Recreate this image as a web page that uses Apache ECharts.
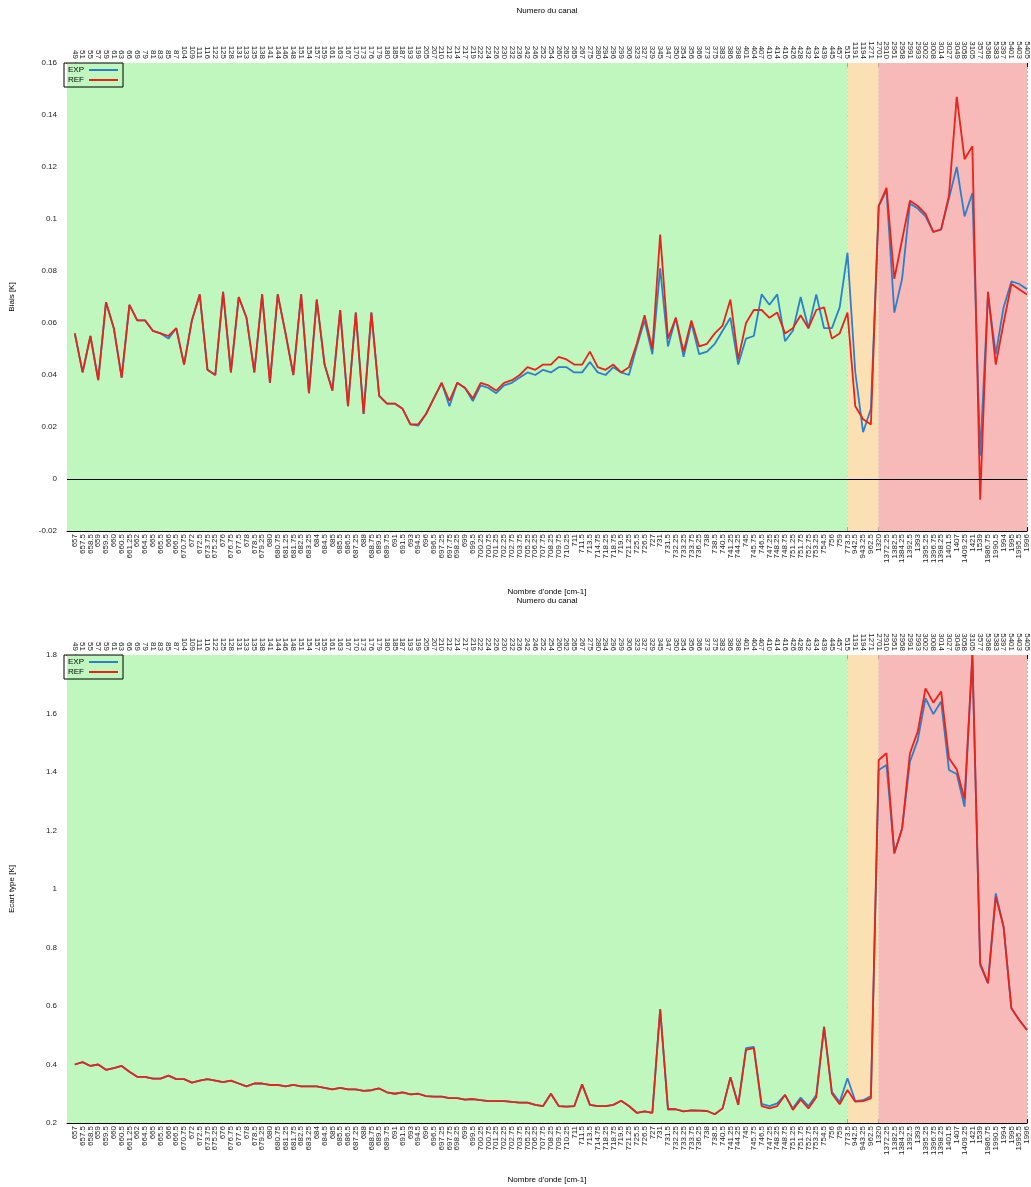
<!DOCTYPE html>
<html>
<head>
<meta charset="utf-8">
<script src="https://cdn.jsdelivr.net/npm/echarts@6/dist/echarts.min.js"></script>
<style>
html, body { margin: 0; padding: 0; background: #fff; }
#chart { width: 1031px; height: 1187px; }
</style>
</head>
<body>
<div id="chart"></div>
<script>
// numero du canal (axe du haut)
const channels = [
    49, 51, 55, 57, 59, 61, 63, 66, 69, 79, 81, 83, 85, 87, 104, 109, 111, 116, 122, 125,
    128, 131, 133, 135, 138, 141, 144, 146, 148, 151, 154, 157, 159, 161, 163, 167, 170, 173, 176, 179,
    180, 185, 187, 193, 199, 205, 207, 210, 212, 214, 217, 219, 222, 224, 226, 230, 232, 236, 242, 246,
    252, 254, 260, 262, 265, 267, 275, 280, 294, 296, 299, 306, 323, 327, 329, 345, 347, 350, 354, 356,
    366, 373, 375, 383, 386, 398, 401, 404, 407, 410, 414, 416, 426, 428, 432, 434, 439, 445, 457, 515,
    1191, 1194, 1271, 2701, 2910, 2951, 2958, 2991, 2993, 3002, 3008, 3014, 3027, 3049, 3058, 3105, 3577, 5368, 5383, 5397,
    5401, 5403, 5405
];

// nombre d'onde (axe du bas)
const wavenumbers = [
    "657", "657.5", "658.5", "659", "659.5", "660", "660.5", "661.25", "662", "664.5",
    "665", "665.5", "666", "666.5", "670.75", "672", "672.5", "673.75", "675.25", "676",
    "676.75", "677.5", "678", "678.5", "679.25", "680", "680.75", "681.25", "681.75", "682.5",
    "683.25", "684", "684.5", "685", "685.5", "686.5", "687.25", "688", "688.75", "689.5",
    "689.75", "691", "691.5", "693", "694.5", "696", "696.5", "697.25", "697.75", "698.25",
    "699", "699.5", "700.25", "700.75", "701.25", "702.25", "702.75", "703.75", "705.25", "706.25",
    "707.75", "708.25", "709.75", "710.25", "711", "711.5", "713.5", "714.75", "718.25", "718.75",
    "719.5", "721.25", "725.5", "726.5", "727", "731", "731.5", "732.25", "733.25", "733.75",
    "736.25", "738", "738.5", "740.5", "741.25", "744.25", "745", "745.75", "746.5", "747.25",
    "748.25", "748.75", "751.25", "751.75", "752.75", "753.25", "754.5", "756", "759", "773.5",
    "942.5", "943.25", "962.5", "1320", "1372.25", "1382.5", "1384.25", "1392.5", "1393", "1395.25",
    "1396.75", "1398.25", "1401.5", "1407", "1409.25", "1421", "1539", "1986.75", "1990.5", "1994",
    "1995", "1995.5", "1996"
];

const biaisExp = [
    0.056, 0.041, 0.055, 0.038, 0.068, 0.058, 0.039, 0.067, 0.061, 0.061,
    0.057, 0.056, 0.054, 0.058, 0.044, 0.061, 0.071, 0.042, 0.040, 0.072,
    0.041, 0.070, 0.062, 0.041, 0.071, 0.037, 0.071, 0.056, 0.040, 0.071,
    0.033, 0.069, 0.044, 0.034, 0.065, 0.028, 0.064, 0.025, 0.064, 0.032,
    0.029, 0.029, 0.027, 0.021, 0.0205, 0.025, 0.031, 0.037, 0.028, 0.037,
    0.035, 0.030, 0.036, 0.035, 0.033, 0.036, 0.037, 0.039, 0.041, 0.040,
    0.042, 0.041, 0.043, 0.043, 0.041, 0.041, 0.045, 0.041, 0.040, 0.043,
    0.041, 0.040, 0.051, 0.061, 0.048, 0.081, 0.051, 0.062, 0.047, 0.060,
    0.048, 0.049, 0.052, 0.057, 0.062, 0.044, 0.054, 0.055, 0.071, 0.067,
    0.071, 0.053, 0.057, 0.070, 0.058, 0.071, 0.058, 0.058, 0.066, 0.087,
    0.041, 0.018, 0.027, 0.105, 0.111, 0.064, 0.077, 0.106, 0.104, 0.101,
    0.095, 0.096, 0.108, 0.120, 0.101, 0.110, 0.009, 0.071, 0.048, 0.066,
    0.076, 0.075, 0.073
];

const biaisRef = [
    0.056, 0.041, 0.055, 0.038, 0.068, 0.058, 0.039, 0.067, 0.061, 0.061,
    0.057, 0.056, 0.055, 0.058, 0.044, 0.061, 0.071, 0.042, 0.040, 0.072,
    0.041, 0.070, 0.062, 0.041, 0.071, 0.037, 0.071, 0.056, 0.040, 0.071,
    0.033, 0.069, 0.044, 0.034, 0.065, 0.028, 0.064, 0.025, 0.064, 0.032,
    0.029, 0.029, 0.027, 0.021, 0.021, 0.025, 0.031, 0.037, 0.030, 0.037,
    0.035, 0.031, 0.037, 0.036, 0.034, 0.037, 0.038, 0.040, 0.043, 0.042,
    0.044, 0.044, 0.047, 0.046, 0.044, 0.044, 0.049, 0.043, 0.042, 0.044,
    0.041, 0.043, 0.052, 0.063, 0.050, 0.094, 0.054, 0.062, 0.049, 0.061,
    0.051, 0.052, 0.056, 0.059, 0.069, 0.046, 0.060, 0.065, 0.065, 0.062,
    0.064, 0.056, 0.058, 0.063, 0.058, 0.065, 0.066, 0.054, 0.056, 0.064,
    0.028, 0.023, 0.021, 0.105, 0.112, 0.077, 0.092, 0.107, 0.105, 0.102,
    0.095, 0.096, 0.109, 0.147, 0.123, 0.128, -0.008, 0.072, 0.044, 0.060,
    0.075, 0.073, 0.071
];

const ecartExp = [
    0.400, 0.408, 0.395, 0.400, 0.382, 0.388, 0.395, 0.375, 0.358, 0.358,
    0.352, 0.352, 0.362, 0.350, 0.350, 0.338, 0.345, 0.350, 0.345, 0.340,
    0.345, 0.335, 0.325, 0.335, 0.335, 0.330, 0.330, 0.325, 0.330, 0.325,
    0.325, 0.325, 0.320, 0.315, 0.320, 0.315, 0.315, 0.310, 0.312, 0.318,
    0.305, 0.300, 0.305, 0.298, 0.300, 0.292, 0.290, 0.290, 0.285, 0.285,
    0.280, 0.282, 0.278, 0.275, 0.275, 0.275, 0.272, 0.270, 0.270, 0.262,
    0.258, 0.300, 0.258, 0.256, 0.258, 0.332, 0.262, 0.258, 0.258, 0.262,
    0.276, 0.258, 0.235, 0.240, 0.235, 0.589, 0.247, 0.247, 0.240, 0.243,
    0.242, 0.241, 0.230, 0.250, 0.356, 0.262, 0.456, 0.460, 0.265, 0.258,
    0.267, 0.296, 0.250, 0.287, 0.258, 0.296, 0.529, 0.307, 0.272, 0.353,
    0.275, 0.278, 0.292, 1.407, 1.424, 1.122, 1.207, 1.435, 1.509, 1.652,
    1.598, 1.641, 1.407, 1.393, 1.281, 1.800, 0.740, 0.678, 0.985, 0.871,
    0.592, 0.552, 0.518
];

const ecartRef = [
    0.400, 0.408, 0.395, 0.400, 0.382, 0.388, 0.395, 0.375, 0.358, 0.358,
    0.352, 0.352, 0.362, 0.350, 0.350, 0.338, 0.345, 0.350, 0.345, 0.340,
    0.345, 0.335, 0.325, 0.335, 0.335, 0.330, 0.330, 0.325, 0.330, 0.325,
    0.325, 0.325, 0.320, 0.315, 0.320, 0.315, 0.315, 0.310, 0.312, 0.318,
    0.305, 0.300, 0.305, 0.298, 0.300, 0.292, 0.290, 0.290, 0.285, 0.285,
    0.280, 0.282, 0.278, 0.275, 0.275, 0.275, 0.272, 0.270, 0.270, 0.262,
    0.258, 0.300, 0.258, 0.256, 0.258, 0.332, 0.262, 0.258, 0.258, 0.262,
    0.276, 0.258, 0.235, 0.240, 0.235, 0.589, 0.247, 0.247, 0.240, 0.243,
    0.242, 0.241, 0.230, 0.250, 0.356, 0.262, 0.450, 0.456, 0.258, 0.250,
    0.258, 0.296, 0.245, 0.280, 0.250, 0.288, 0.529, 0.301, 0.264, 0.313,
    0.273, 0.275, 0.284, 1.441, 1.464, 1.122, 1.207, 1.464, 1.538, 1.686,
    1.637, 1.675, 1.447, 1.409, 1.307, 1.800, 0.746, 0.678, 0.974, 0.871,
    0.592, 0.552, 0.518
];

const N = wavenumbers.length;
const greenEnd = wavenumbers.indexOf("773.5");
const redStart = wavenumbers.indexOf("1320");

const BLUE = "#2c80c8";
const RED = "#e8231b";
const FONT = "Liberation Sans";

const toPairs = arr => arr.map((v, i) => [i, v]);

const xAxisPair = (g, nameGapBottom, nameGapTop) => [
    {
        type: "value", gridIndex: g, position: "bottom",
        min: -1, max: N - 1, interval: 1,
        name: "Nombre d'onde [cm-1]", nameLocation: "middle", nameGap: nameGapBottom,
        nameTextStyle: { fontSize: 8, color: "#000", fontFamily: FONT },
        axisLine: { show: true, onZero: false, lineStyle: { color: "#000", width: 1 } },
        axisTick: { show: true, inside: true, length: 4, lineStyle: { color: "#000" } },
        axisLabel: {
            rotate: 90, fontSize: 8, margin: 3, color: "#222", fontFamily: FONT,
            formatter: v => wavenumbers[v] ?? ""
        },
        splitLine: { show: true, lineStyle: { color: "rgba(60,80,60,0.4)", type: [2, 2], width: 1 } }
    },
    {
        type: "value", gridIndex: g, position: "top",
        min: -1, max: N - 1, interval: 1,
        name: "Numero du canal", nameLocation: "middle", nameGap: nameGapTop,
        nameTextStyle: { fontSize: 8, color: "#000", fontFamily: FONT },
        axisLine: { show: true, onZero: false, lineStyle: { color: "#000", width: 1 } },
        axisTick: { show: true, inside: true, length: 4, lineStyle: { color: "#000" } },
        axisLabel: {
            rotate: 90, fontSize: 8, margin: 4, color: "#222", fontFamily: FONT,
            formatter: v => (channels[v] !== undefined ? String(channels[v]) : "")
        },
        splitLine: { show: false }
    }
];

const yAxisFor = (g, name, min, max, interval) => ({
    type: "value", gridIndex: g, min, max, interval,
    name, nameLocation: "middle", nameGap: 51,
    nameTextStyle: { fontSize: 8, color: "#000", fontFamily: FONT },
    axisLine: { show: true, lineStyle: { color: "#000", width: 1 } },
    axisTick: { show: true, inside: true, length: 4, lineStyle: { color: "#000" } },
    axisLabel: { fontSize: 8, color: "#222", margin: 10, fontFamily: FONT },
    splitLine: { show: true, lineStyle: { color: "rgba(90,90,90,0.5)", type: [1, 2], width: 1 } }
});

const zoneSeries = (g, data) => ({
    type: "line", xAxisIndex: 2 * g, yAxisIndex: g,
    data: toPairs(data), showSymbol: false, silent: true, z: -5,
    lineStyle: { opacity: 0 },
    markArea: {
        silent: true,
        data: [
            [{ xAxis: -1, itemStyle: { color: "#bff7bf" } }, { xAxis: greenEnd }],
            [{ xAxis: greenEnd, itemStyle: { color: "#fbe0b4" } }, { xAxis: redStart }],
            [{ xAxis: redStart, itemStyle: { color: "#f8b9b9" } }, { xAxis: N - 1 }]
        ]
    }
});

const lineSeries = (g, name, data, color, extra) => Object.assign({
    name, type: "line", xAxisIndex: 2 * g, yAxisIndex: g,
    data: toPairs(data), showSymbol: false, symbol: "none",
    lineStyle: { color, width: 1.8 }, itemStyle: { color }
}, extra || {});

const legendFor = top => ({
    left: 64, top, orient: "vertical", data: ["EXP", "REF"], align: "right",
    icon: "rect", itemWidth: 29, itemHeight: 2, itemGap: 2,
    padding: [3, 5, 3, 4], borderColor: "#000", borderWidth: 1, borderRadius: 0,
    selectedMode: false,
    textStyle: { fontSize: 8, color: "#000", width: 20, fontFamily: FONT }
});

const chart = echarts.init(document.getElementById("chart"));

chart.setOption({
    animation: false,
    backgroundColor: "#fff",
    textStyle: { fontFamily: FONT },
    grid: [
        { left: 64, right: 0, top: 63, height: 468 },
        { left: 64, right: 0, top: 655, height: 468 }
    ],
    xAxis: [...xAxisPair(0, 57, 48), ...xAxisPair(1, 53, 50)],
    yAxis: [
        yAxisFor(0, "Biais [K]", -0.02, 0.16, 0.02),
        yAxisFor(1, "Ecart type [K]", 0.2, 1.8, 0.2)
    ],
    legend: [legendFor(63), legendFor(655)],
    series: [
        zoneSeries(0, biaisRef),
        lineSeries(0, "EXP", biaisExp, BLUE, {
            markLine: {
                silent: true, symbol: "none", label: { show: false },
                lineStyle: { color: "#000", type: "solid", width: 1 },
                data: [{ yAxis: 0 }]
            }
        }),
        lineSeries(0, "REF", biaisRef, RED),
        zoneSeries(1, ecartRef),
        lineSeries(1, "EXP", ecartExp, BLUE),
        lineSeries(1, "REF", ecartRef, RED)
    ]
});
</script>
</body>
</html>
